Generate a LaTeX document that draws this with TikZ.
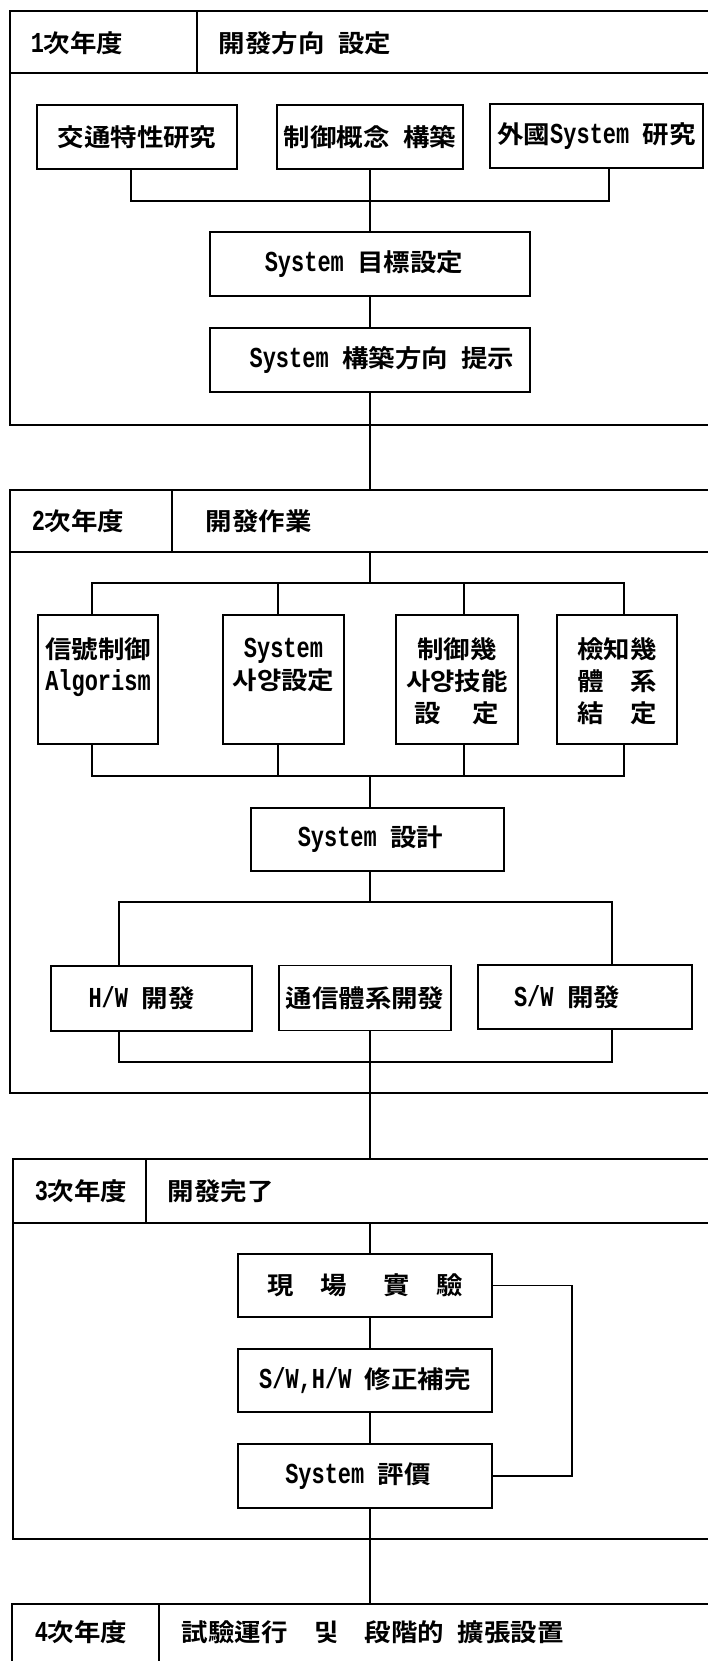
\documentclass[tikz,border=0pt]{standalone}
\usepackage{fontspec}
\setmainfont{Noto Sans CJK KR}[FakeStretch=1.08, BoldFont={* Bold}]
\newfontfamily\lat{Liberation Mono}[FakeStretch=0.76, Scale=1.18]
\newcommand\hs{\hspace{0.55em}}
\usetikzlibrary{calc}
\begin{document}
\begin{tikzpicture}[x=1pt,y=-1pt, line width=1.6pt,
  every node/.style={font=\fontsize{24.5}{32}\selectfont\bfseries},
  box/.style={draw, inner sep=0pt, outer sep=0pt, align=center},
  hdr/.style={inner sep=0pt, anchor=west},
  lbl/.style={inner sep=0pt, anchor=north, align=center}]
\useasboundingbox (0,0) rectangle (708,1661);
\fill[white] (0,0) rectangle (708,1661);
% ---------- section frames ----------
\begin{scope}
\clip (0,0) rectangle (708,1661);
\draw (730,11) -- (10,11) -- (10,425) -- (730,425);
\draw (10,73) -- (730,73);
\draw (197,11) -- (197,73);
\draw (730,490) -- (10,490) -- (10,1093) -- (730,1093);
\draw (10,552) -- (730,552);
\draw (172,490) -- (172,552);
\draw (730,1159) -- (13,1159) -- (13,1539) -- (730,1539);
\draw (13,1223) -- (730,1223);
\draw (146,1159) -- (146,1223);
\draw (730,1604) -- (12,1604) -- (12,1680);
\draw (159,1604) -- (159,1680);
\end{scope}
% ---------- headers ----------
\node[hdr] (y1) at (30,43) {{\lat 1}次年度};
\node[hdr] (t1) at (218,43) {開發方向\hs 設定};
\node[hdr] (y2) at (31,521) {{\lat 2}次年度};
\node[hdr] (t2) at (205,521) {開發作業};
\node[hdr] (y3) at (34,1191) {{\lat 3}次年度};
\node[hdr] (t3) at (167,1191) {開發完了};
\node[hdr] (y4) at (34,1632) {{\lat 4}次年度};
\node[hdr] (t4) at (181,1632) {試驗運行　및　段階的\hs 擴張設置};
% ---------- section 1 ----------
\node[box, minimum width=200, minimum height=64] (a1) at (137,137) {交通特性研究};
\node[box, minimum width=186, minimum height=64] (a2) at (370,137) {制御概念\hs 構築};
\node[box, minimum width=213, minimum height=64] (a3) at (596.5,136) {外國{\lat System}\hs 研究};
\node[box, minimum width=320, minimum height=64] (a4) at (370,264) {\hspace*{-12pt}{\lat System}\hs 目標設定};
\node[box, minimum width=320, minimum height=64] (a5) at (370,360) {\hspace*{24pt}{\lat System}\hs 構築方向\hs 提示};
\draw ([xshift=-6]a1.south) -- ++(0,32) -| ([xshift=12.5]a3.south);
\draw (a2.south) -- (a4.north);
\draw (a4.south) -- (a5.north);
\coordinate (s2top) at (370,490);
\coordinate (s2hb) at (370,552);
\draw (a5.south) -- (s2top);
% ---------- section 2 ----------
\node[box, minimum width=120, minimum height=129] (b1) at (98,679.5) {};
\node[box, minimum width=121, minimum height=129] (b2) at (283.5,679.5) {};
\node[box, minimum width=122, minimum height=129] (b3) at (457,679.5) {};
\node[box, minimum width=120, minimum height=129] (b4) at (617,679.5) {};
\node[lbl] (l1) at ([yshift=-22]b1.north) {信號制御\\{\lat Algorism}};
\node[lbl] (l2) at ([yshift=-22]b2.north) {{\lat System}\\사양設定};
\node[lbl] (l3) at ([yshift=-22]b3.north) {制御幾\\사양技能\\設\hspace{1.3em}定};
\node[lbl] (l4) at ([yshift=-22]b4.north) {檢知幾\\體　系\\結　定};
\draw (s2hb) -- (370,583);
\draw ([xshift=-6]b1.north) -- ++(0,-32) -| ([xshift=7]b4.north);
\draw ([xshift=-5.5]b2.north) -- ++(0,-32);
\draw ([xshift=7]b3.north) -- ++(0,-32);
\draw ([xshift=-6]b1.south) -- ++(0,32) -| ([xshift=7]b4.south);
\draw ([xshift=-5.5]b2.south) -- ++(0,32);
\draw ([xshift=7]b3.south) -- ++(0,32);
\node[box, minimum width=253, minimum height=63] (b5) at (377.5,839.5) {\hspace*{-14pt}{\lat System}\hs 設計};
\draw (370,776) -- ([xshift=-7.5]b5.north);
\node[box, minimum width=201, minimum height=65] (c1) at (151.5,998.5) {\hspace*{-20pt}{\lat H/W}\hs 開發};
\node[box, minimum width=172, minimum height=65] (c2) at (365,998) {通信體系開發};
\node[box, minimum width=214, minimum height=64] (c3) at (585,997) {\hspace*{-36pt}{\lat S/W}\hs 開發};
\draw ([xshift=-7.5]b5.south) -- (370,902);
\draw ([xshift=-32.5]c1.north) -- ++(0,-64) -| ([xshift=27]c3.north);
\draw ([xshift=-32.5]c1.south) -- ++(0,31) -| ([xshift=27]c3.south);
\coordinate (s3top) at (370,1159);
\coordinate (s3hb) at (370,1223);
\draw ([xshift=5]c2.south) -- (s3top);
% ---------- section 3 ----------
\node[box, minimum width=254, minimum height=63] (d1) at (365,1285.5) {現　場　\hspace{0.4em}實　驗};
\node[box, minimum width=254, minimum height=63] (d2) at (365,1380.5) {{\lat S/W,H/W}\hs 修正補完};
\node[box, minimum width=254, minimum height=64] (d3) at (365,1476) {\hspace*{-14pt}{\lat System}\hs 評價};
\draw (s3hb) -- ([xshift=5]d1.north);
\draw ([xshift=5]d1.south) -- ([xshift=5]d2.north);
\draw ([xshift=5]d2.south) -- ([xshift=5]d3.north);
\draw (d1.east) -- ++(80,0) |- (d3.east);
\coordinate (s4top) at (370,1604);
\draw ([xshift=5]d3.south) -- (s4top);
\end{tikzpicture}
\end{document}
